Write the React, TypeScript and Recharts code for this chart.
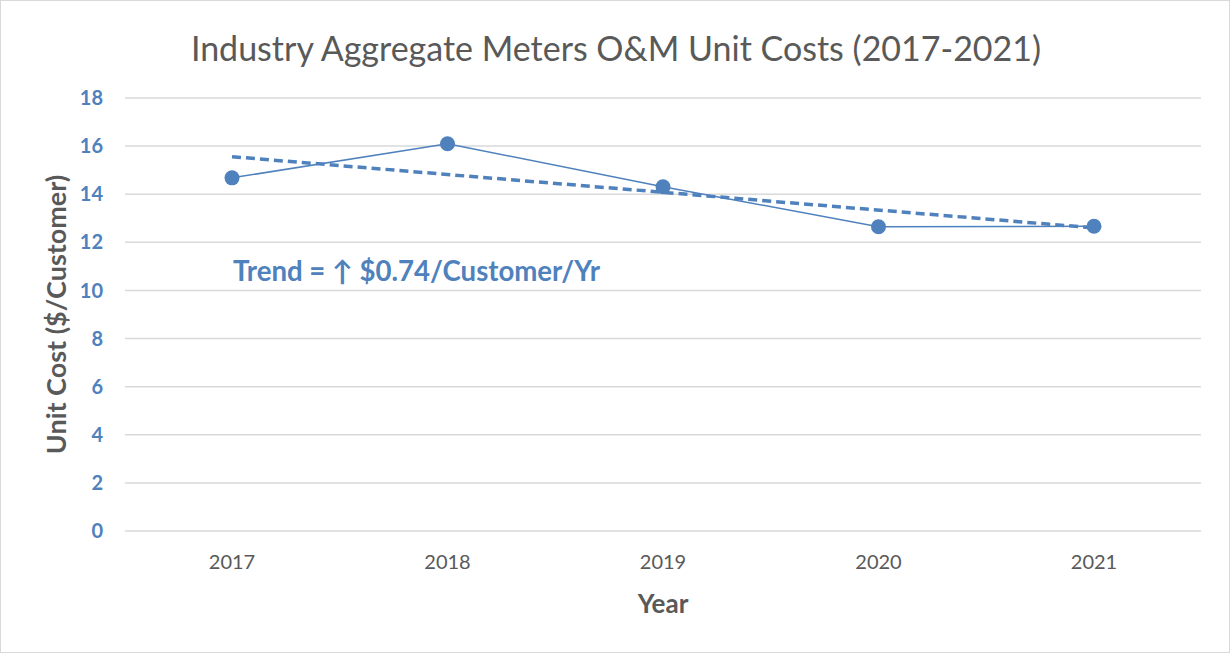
import { LineChart, Line, XAxis, YAxis, CartesianGrid, Label } from "recharts"

const years = ['2017', '2018', '2019', '2020', '2021']
const unitCost = [14.68, 16.1, 14.31, 12.65, 12.67]
// trend line end points (straight dashed line)
const trendEnds = [15.56, null, null, null, 12.6]
const yTicks = [0, 2, 4, 6, 8, 10, 12, 14, 16, 18]

const data = years.map((year, i) => ({ year, cost: unitCost[i], trend: trendEnds[i] }))

const blue = '#4f81bd'
const gray = '#595959'
const font = 'Lato, "DejaVu Sans", sans-serif'

export default function App() {
    return (
        <div
            style={{
                position: 'absolute',
                left: 0,
                top: 0,
                width: 1230,
                height: 653,
                boxSizing: 'border-box',
                border: '1px solid #d9d9d9',
                background: '#fff',
                fontFamily: font,
            }}
        >
            <div
                style={{
                    position: 'absolute',
                    left: 0,
                    width: 1230,
                    top: 25,
                    textAlign: 'center',
                    fontSize: 34,
                    color: gray,
                    lineHeight: '44px',
                }}
            >
                Industry Aggregate Meters O&amp;M Unit Costs (2017-2021)
            </div>
            <div
                style={{
                    position: 'absolute',
                    left: 232,
                    top: 253,
                    fontSize: 27.6,
                    fontWeight: 'bold',
                    color: blue,
                    lineHeight: '34px',
                    whiteSpace: 'nowrap',
                }}
            >
                Trend = ↑ $0.74/Customer/Yr
            </div>
            <LineChart
                width={1228}
                height={651}
                data={data}
                margin={{ top: 97, right: 28, bottom: 31, left: 0 }}
                style={{ position: 'absolute', left: 0, top: 0 }}
            >
                <CartesianGrid vertical={false} stroke="#d9d9d9" strokeWidth={1.5} />
                <XAxis
                    dataKey="year"
                    axisLine={false}
                    tickLine={false}
                    tickSize={0}
                    tickMargin={24}
                    height={90}
                    padding={{ left: 107, right: 107 }}
                    tick={{ fill: gray, fontSize: 20, fontFamily: font }}
                >
                    <Label
                        value="Year"
                        position="insideBottom"
                        offset={8}
                        style={{ fill: gray, fontSize: 26, fontWeight: 'bold', fontFamily: font }}
                    />
                </XAxis>
                <YAxis
                    domain={[0, 18]}
                    ticks={yTicks}
                    interval={0}
                    axisLine={false}
                    tickLine={false}
                    tickSize={0}
                    tickMargin={22}
                    width={124}
                    tick={{ fill: blue, fontSize: 20, fontWeight: 'bold', fontFamily: font }}
                >
                    <Label
                        content={({ viewBox }: any) => {
                            const cy = viewBox.y + viewBox.height / 2
                            return (
                                <text
                                    x={54}
                                    y={cy}
                                    transform={`rotate(-90 54 ${cy})`}
                                    textAnchor="middle"
                                    dominantBaseline="central"
                                    fill={gray}
                                    fontSize={27}
                                    fontWeight="bold"
                                    fontFamily={font}
                                >
                                    Unit Cost ($/Customer)
                                </text>
                            )
                        }}
                    />
                </YAxis>
                <Line
                    dataKey="trend"
                    type="linear"
                    connectNulls
                    stroke={blue}
                    strokeWidth={3.5}
                    strokeDasharray="9 5"
                    dot={false}
                    activeDot={false}
                    isAnimationActive={false}
                />
                <Line
                    dataKey="cost"
                    type="linear"
                    stroke={blue}
                    strokeWidth={1.5}
                    dot={{ r: 7.5, fill: blue, stroke: blue, strokeWidth: 0 }}
                    activeDot={false}
                    isAnimationActive={false}
                />
            </LineChart>
        </div>
    )
}
